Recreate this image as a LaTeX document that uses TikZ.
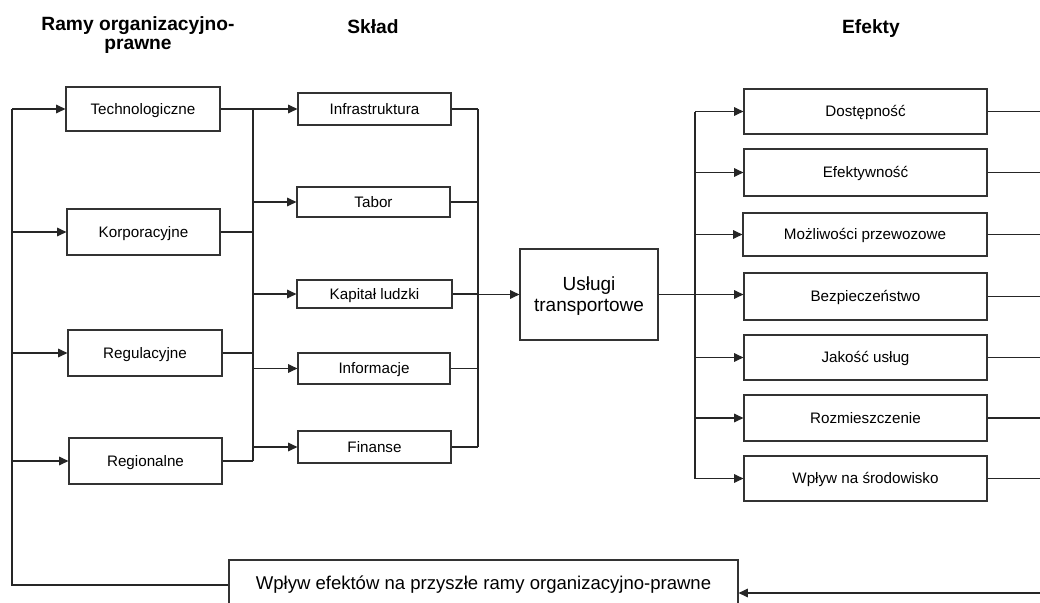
\documentclass[tikz,border=0pt]{standalone}
\usepackage{fontspec}
\setmainfont{Liberation Sans}
\usetikzlibrary{arrows.meta}
\begin{document}
\begin{tikzpicture}[x=0.75pt,y=-0.75pt,
  ln/.style={draw=black!85, line width=0.85pt},
  box/.style={draw=black!80, line width=0.9pt, fill=white, inner sep=0pt, text height=8.2pt, text depth=0pt, font=\fontsize{11.4pt}{13pt}\selectfont},
  bigbox/.style={box, font=\fontsize{14.25pt}{15.8pt}\selectfont, align=center, text height=, text depth=0pt},
  head/.style={font=\fontsize{14.4pt}{14.4pt}\selectfont\bfseries, align=center, inner sep=0pt},
  arr/.style={ln, -{Triangle[length=7pt,width=6.5pt]}}]
\useasboundingbox (0,0) rectangle (1040,603);
\clip (0,0) rectangle (1040,603);
\fill[white] (0,0) rectangle (1040,603);

% headers
\node[head, anchor=north] (h1) at (138,16) {Ramy organizacyjno-\\prawne};
\node[head, anchor=base] (h2) at (373,33) {Skład};
\node[head, anchor=base] (h3) at (871,33) {Efekty};

% left column
\node[box, minimum width=154*0.75pt, minimum height=44*0.75pt] (tech) at (143,109) {Technologiczne};
\node[box, minimum width=153*0.75pt, minimum height=46*0.75pt] (korp) at (143.5,232) {Korporacyjne};
\node[box, minimum width=154*0.75pt, minimum height=46*0.75pt] (reg) at (145,353) {Regulacyjne};
\node[box, minimum width=153*0.75pt, minimum height=46*0.75pt] (regn) at (145.5,461) {Regionalne};

% middle column
\node[box, minimum width=153*0.75pt, minimum height=32*0.75pt] (infra) at (374.5,109) {Infrastruktura};
\node[box, minimum width=153*0.75pt, minimum height=30*0.75pt] (tabor) at (373.5,202) {Tabor};
\node[box, minimum width=155*0.75pt, minimum height=28*0.75pt] (kap) at (374.5,294) {Kapitał ludzki};
\node[box, minimum width=152*0.75pt, minimum height=31*0.75pt] (info) at (374,368.5) {Informacje};
\node[box, minimum width=153*0.75pt, minimum height=32*0.75pt] (fin) at (374.5,447) {Finanse};

% center
\node[bigbox, minimum width=138*0.75pt, minimum height=91*0.75pt] (usl) at (589,294.5) {Usługi\\transportowe};

% effects
\node[box, minimum width=243*0.75pt, minimum height=45*0.75pt] (dost) at (865.5,111.5) {Dostępność};
\node[box, minimum width=243*0.75pt, minimum height=47*0.75pt] (efek) at (865.5,172.5) {Efektywność};
\node[box, minimum width=244*0.75pt, minimum height=43*0.75pt] (mozl) at (865,234.5) {Możliwości przewozowe};
\node[box, minimum width=243*0.75pt, minimum height=47*0.75pt] (bezp) at (865.5,296.5) {Bezpieczeństwo};
\node[box, minimum width=243*0.75pt, minimum height=45*0.75pt] (jak) at (865.5,357.5) {Jakość usług};
\node[box, minimum width=243*0.75pt, minimum height=46*0.75pt] (rozm) at (865.5,418) {Rozmieszczenie};
\node[box, minimum width=243*0.75pt, minimum height=45*0.75pt] (wpl) at (865.5,478.5) {Wpływ na środowisko};

% bottom
\node[box, font=\fontsize{13.9pt}{16pt}\selectfont, text height=10pt, minimum width=509*0.75pt, minimum height=46*0.75pt] (fb) at (483.5,583) {Wpływ efektów na przyszłe ramy organizacyjno-prawne};

% bus coordinates
\coordinate (lbus) at (253,0);
\coordinate (rbus) at (478,0);
\coordinate (ebus) at (695,0);
\coordinate (fbL) at (12,585);
\coordinate (fbR) at (1041,593);

% left feedback loop
\draw[ln] (fb.west |- fbL) -- (fbL) -- (fbL |- tech.west);
\foreach \n in {tech,korp,reg,regn} \draw[arr] (fbL |- \n.west) -- (\n.west);

% left bus
\foreach \n in {tech,korp,reg,regn} \draw[ln] (\n.east) -- (\n.east -| lbus);
\draw[ln] (lbus |- tech.east) -- (lbus |- regn.east);
\foreach \n in {infra,tabor,kap,info,fin} \draw[arr] (lbus |- \n.west) -- (\n.west);

% right bus
\foreach \n in {infra,tabor,kap,info,fin} \draw[ln] (\n.east) -- (\n.east -| rbus);
\draw[ln] (rbus |- infra.east) -- (rbus |- fin.east);
\draw[arr] (rbus |- usl.west) -- (usl.west);

% effects bus
\draw[arr] (usl.east) -- (bezp.west |- usl.east);
\draw[ln] (ebus |- dost.west) -- (ebus |- wpl.west);
\foreach \n in {dost,efek,mozl,jak,rozm,wpl} \draw[arr] (ebus |- \n.west) -- (\n.west);

% right feedback
\foreach \n in {dost,efek,mozl,bezp,jak,rozm,wpl} \draw[ln] (\n.east) -- (\n.east -| fbR);
\draw[ln] (fbR |- dost.east) -- (fbR);
\draw[arr] (fbR) -- (fb.east |- fbR);
\end{tikzpicture}
\end{document}
